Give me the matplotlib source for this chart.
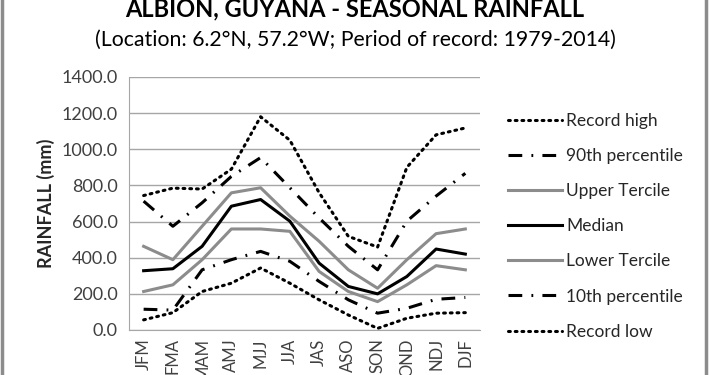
import numpy as np
import matplotlib.pyplot as plt
from matplotlib.patches import Rectangle

plt.rcParams['font.family'] = ['Lato', 'DejaVu Sans']

# Dados (mm)
seasons = ["JFM", "FMA", "MAM", "AMJ", "MJJ", "JJA", "JAS", "ASO", "SON", "OND", "NDJ", "DJF"]
record_high = [744, 785, 780, 890, 1180, 1050, 760, 518, 459, 900, 1080, 1118]
p90 = [713, 574, 704, 850, 954, 787, 620, 463, 333, 602, 741, 867]
upper_tercile = [463, 389, 574, 759, 787, 630, 491, 333, 231, 389, 533, 559]
median = [328, 339, 463, 685, 722, 602, 370, 241, 200, 296, 448, 420]
lower_tercile = [213, 250, 389, 559, 559, 546, 324, 213, 157, 250, 356, 333]
p10 = [115, 110, 333, 389, 435, 380, 269, 167, 93, 120, 170, 180]
record_low = [56, 96, 213, 259, 343, 259, 167, 83, 9, 65, 93, 96]

GRAY = '#8c8c8c'

fig = plt.figure(figsize=(7.1, 3.75), dpi=100)
ax = fig.add_axes([0.1817, 0.12, 0.4943, 0.6747])

x = np.arange(len(seasons))
dot = (0, (0.6, 1.6))
dashdot = (0, (4.5, 3.0, 0.6, 3.0))

ax.plot(x, record_high, color='black', lw=2.2, linestyle=dot, dash_capstyle='round', label='Record high')
ax.plot(x, p90, color='black', lw=2.2, linestyle=dashdot, label='90th percentile')
ax.plot(x, upper_tercile, color=GRAY, lw=2.2, label='Upper Tercile')
ax.plot(x, median, color='black', lw=2.2, label='Median')
ax.plot(x, lower_tercile, color=GRAY, lw=2.2, label='Lower Tercile')
ax.plot(x, p10, color='black', lw=2.2, linestyle=dashdot, label='10th percentile')
ax.plot(x, record_low, color='black', lw=2.2, linestyle=dot, dash_capstyle='round', label='Record low')

ax.set_xlim(-0.5, len(seasons) - 0.5)
ax.set_ylim(0, 1400)
ax.set_yticks(np.arange(0, 1401, 200))
ax.set_yticklabels([f"{v:.1f}" for v in np.arange(0, 1401, 200)], fontsize=13, color='#404040')
ax.set_xticks(x)
ax.set_xticklabels(seasons, rotation=90, fontsize=12, color='#404040', va='top')
ax.tick_params(axis='both', length=0, pad=8)
ax.tick_params(axis='x', pad=6)
ax.grid(axis='y', color='#a6a6a6', lw=1)
ax.set_axisbelow(True)
for side in ['top', 'right']:
    ax.spines[side].set_visible(False)
for side in ['left', 'bottom']:
    ax.spines[side].set_color('#a6a6a6')
ax.set_ylabel('RAINFALL (mm)', fontsize=13, fontweight='bold', color='#262626', labelpad=5)

leg = ax.legend(loc='upper left', bbox_to_anchor=(1.06, 0.885), frameon=False, fontsize=12.5,
                labelspacing=1.1, handlelength=3.1, handletextpad=0.25, borderaxespad=0)
for t in leg.get_texts():
    t.set_color('#262626')

fig.text(0.5, 1.006, 'ALBION, GUYANA - SEASONAL RAINFALL', ha='center', va='top',
         fontsize=17, fontweight='bold', color='black')
fig.text(0.5, 0.895, '(Location: 6.2°N, 57.2°W; Period of record: 1979-2014)', ha='center', va='center',
         fontsize=15.3, color='black')

fig.patches.append(Rectangle((0.003, -0.01), 0.992, 1.05, transform=fig.transFigure,
                             fill=False, edgecolor='#8c8c8c', lw=2.5))

fig.savefig('out.png', dpi=100)
